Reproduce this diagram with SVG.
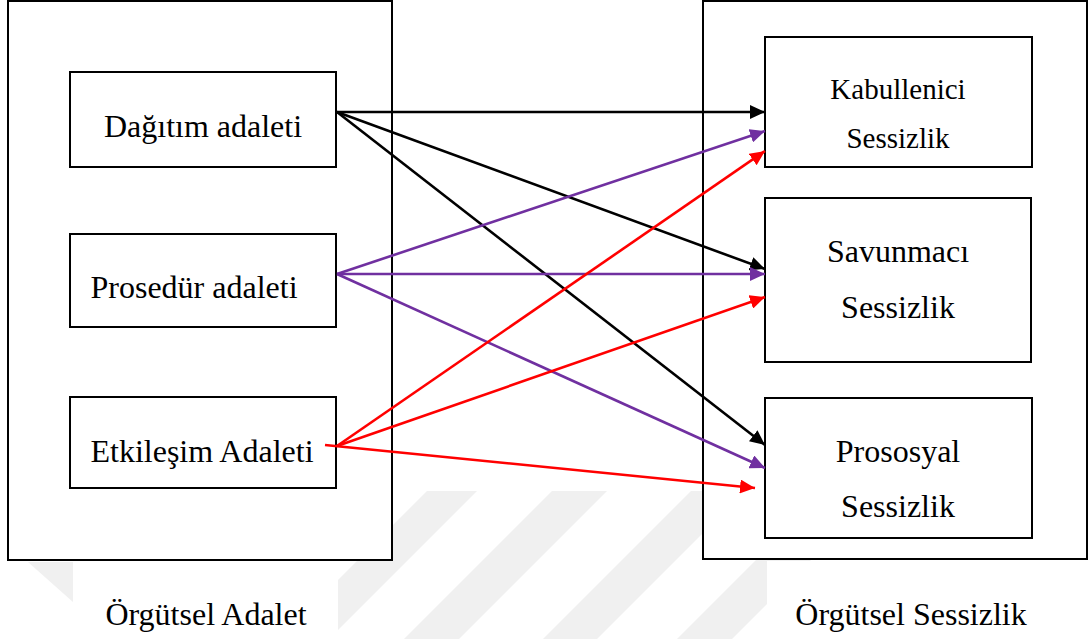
<svg xmlns="http://www.w3.org/2000/svg" width="1088" height="639" viewBox="0 0 1088 639">
<defs>
<style>
.box{fill:#fff;stroke:#000;stroke-width:2}
.t{font-family:'Liberation Serif','Times New Roman','DejaVu Serif',serif;font-size:32px;fill:#000;text-anchor:middle}
.ts{font-size:29px}
.wm{fill:#f0f0f0}
.c{stroke-width:2.6;fill:none}
.k{stroke:#000;marker-end:url(#ak)}
.p{stroke:#7030A0;marker-end:url(#ap)}
.r{stroke:#FF0000;marker-end:url(#ar)}
</style>
<marker id="ak" markerUnits="userSpaceOnUse" markerWidth="16" markerHeight="14" refX="15" refY="7" orient="auto"><path d="M0,0 L15,7 L0,14 z" fill="#000"/></marker>
<marker id="ap" markerUnits="userSpaceOnUse" markerWidth="16" markerHeight="14" refX="15" refY="7" orient="auto"><path d="M0,0 L15,7 L0,14 z" fill="#7030A0"/></marker>
<marker id="ar" markerUnits="userSpaceOnUse" markerWidth="16" markerHeight="14" refX="15" refY="7" orient="auto"><path d="M0,0 L15,7 L0,14 z" fill="#FF0000"/></marker>
</defs>
<rect width="1088" height="639" fill="#fff"/>
<g id="watermark">
<polygon class="wm" points="427,491 477,491 327,641 277,641"/>
<polygon class="wm" points="552,491 607,491 459,639 404,639"/>
<polygon class="wm" points="691,491 745,491 597,639 543,639"/>
<polygon class="wm" points="825,491 880,491 732,639 677,639"/>
<polygon class="wm" points="28,562 73,562 73,602"/>
<rect x="73" y="561" width="265" height="78" fill="#fff"/>
<rect x="767" y="561" width="321" height="78" fill="#fff"/>
</g>
<g id="orgutsel-adalet">
<rect class="box" x="8" y="1" width="384" height="559"/>
<text class="t" font-family="Liberation Serif, serif" x="206" y="625">Örgütsel Adalet</text>
</g>
<g id="orgutsel-sessizlik">
<rect class="box" x="703" y="1" width="384" height="558"/>
<text class="t" font-family="Liberation Serif, serif" x="911" y="625">Örgütsel Sessizlik</text>
</g>
<g id="dagitim">
<rect class="box" x="70" y="72" width="266" height="95"/>
<text class="t" font-family="Liberation Serif, serif" x="203" y="137">Dağıtım adaleti</text>
</g>
<g id="prosedur">
<rect class="box" x="70" y="234" width="266" height="93"/>
<text class="t" font-family="Liberation Serif, serif" x="194" y="298">Prosedür adaleti</text>
</g>
<g id="etkilesim">
<rect class="box" x="70" y="397" width="266" height="91"/>
<text class="t" font-family="Liberation Serif, serif" x="202" y="462">Etkileşim Adaleti</text>
</g>
<g id="kabullenici">
<rect class="box" x="765" y="37" width="267" height="130"/>
<text class="t ts" font-family="Liberation Serif, serif" x="898" y="99">Kabullenici</text>
<text class="t ts" font-family="Liberation Serif, serif" x="898" y="148">Sessizlik</text>
</g>
<g id="savunmaci">
<rect class="box" x="765" y="198" width="266" height="164"/>
<text class="t" font-family="Liberation Serif, serif" x="898" y="262">Savunmacı</text>
<text class="t" font-family="Liberation Serif, serif" x="898" y="318">Sessizlik</text>
</g>
<g id="prososyal">
<rect class="box" x="765" y="398" width="267" height="140"/>
<text class="t" font-family="Liberation Serif, serif" x="898" y="462">Prososyal</text>
<text class="t" font-family="Liberation Serif, serif" x="898" y="517">Sessizlik</text>
</g>
<g id="connectors">
<line class="c k" x1="337" y1="112" x2="765" y2="112"/>
<line class="c k" x1="337" y1="112" x2="765" y2="269"/>
<line class="c k" x1="337" y1="112" x2="765" y2="445"/>
<line class="c p" x1="337" y1="274" x2="765" y2="131"/>
<line class="c p" x1="337" y1="274" x2="765" y2="274"/>
<line class="c p" x1="337" y1="274" x2="765" y2="468"/>
<line class="c r" x1="337" y1="446" x2="765" y2="151"/>
<line class="c r" x1="337" y1="446" x2="765" y2="297"/>
<line class="c r" x1="325" y1="445" x2="755" y2="488"/>
</g>
</svg>
